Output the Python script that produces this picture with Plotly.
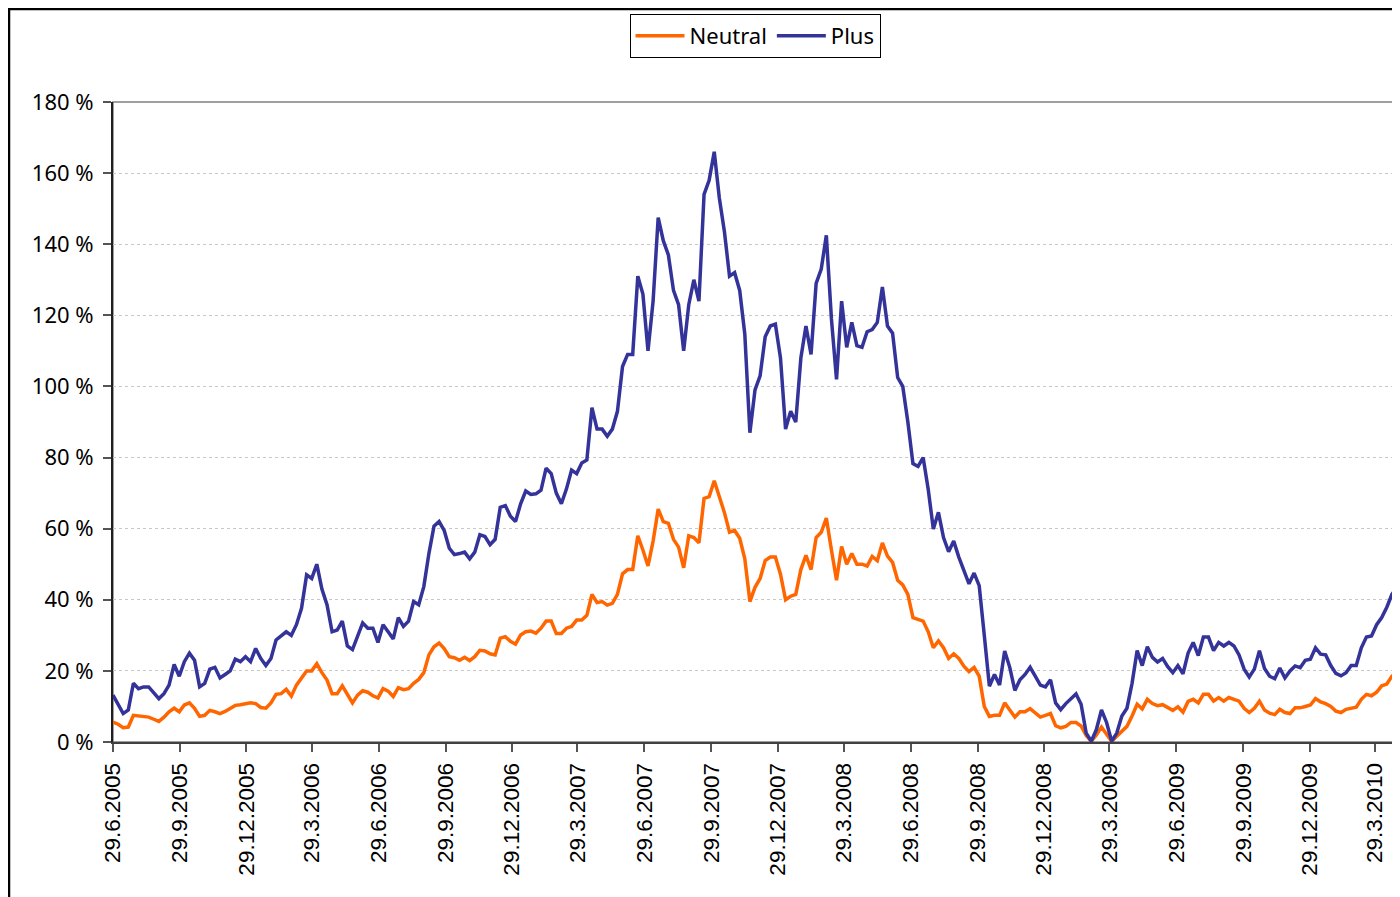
import pandas as pd
import plotly.graph_objects as go

# ---------------- data (weekly observations, percent) ----------------
start_date = "2005-06-29"

neutral = [
    5.6, 5, 4, 4.2, 7.5, 7.3, 7.2, 7, 6.4, 5.8,
    7, 8.5, 9.5, 8.5, 10.4, 11, 9.5, 7.2, 7.5, 8.9,
    8.5, 8, 8.6, 9.5, 10.3, 10.5, 10.7, 11, 10.8, 9.7,
    9.5, 11, 13.4, 13.6, 14.8, 12.9, 16, 17.9, 20, 20,
    22, 19.5, 17.4, 13.6, 13.6, 15.8, 13.5, 11, 13.2, 14.4,
    14, 13, 12.4, 15, 14.3, 12.8, 15.3, 14.7, 15, 16.5,
    17.6, 19.5, 24.5, 26.8, 27.8, 26.3, 24, 23.7, 23, 23.8,
    22.9, 24, 25.8, 25.6, 24.8, 24.5, 29.2, 29.6, 28.3, 27.5,
    30.1, 31, 31.2, 30.6, 32, 34, 34, 30.5, 30.5, 32,
    32.5, 34.3, 34.3, 35.6, 41.5, 39.2, 39.5, 38.5, 39, 41.5,
    47.3, 48.5, 48.5, 58, 54, 49.5, 56.5, 65.5, 62, 61.5,
    57, 54.8, 49, 58, 57.5, 56, 68.5, 69, 73.5, 69,
    64.5, 59, 59.5, 57.3, 51.5, 39.5, 43.5, 46, 51, 52,
    52, 47.2, 40, 41, 41.5, 48.5, 52.5, 48.5, 57.5, 59,
    63, 54, 45.5, 55, 50, 53, 50, 50, 49.5, 52.2,
    51, 56, 52.3, 50.5, 45.5, 44.2, 41.5, 35, 34.5, 34,
    31, 26.5, 28.4, 26.5, 23.5, 24.8, 23.5, 21.3, 19.8, 21,
    18.5, 10, 7.2, 7.5, 7.5, 11, 9, 7, 8.5, 8.5,
    9.4, 8.1, 7, 7.5, 8, 4.6, 4, 4.4, 5.5, 5.5,
    4.5, 1.8, 0.2, 2, 4.2, 2.2, 0.2, 1.6, 3, 4.4,
    7.3, 10.6, 9.3, 12, 10.8, 10.2, 10.5, 9.7, 8.9, 9.9,
    8.4, 11.4, 12, 11, 13.4, 13.4, 11.5, 12.5, 11.5, 12.5,
    12, 11.5, 9.5, 8.3, 9.5, 11.5, 9, 8.1, 7.7, 9.2,
    8.3, 8, 9.6, 9.6, 10, 10.4, 12.2, 11.3, 10.8, 10,
    8.7, 8.3, 9.2, 9.6, 9.8, 12, 13.4, 13, 14, 15.8,
    16.3, 18.5, 19.5,
]

plus = [
    13.2, 10.5, 8, 9, 16.5, 15, 15.5, 15.5, 14, 12.2,
    13.6, 16, 21.8, 18.5, 22.6, 25, 23, 15.5, 16.5, 20.5,
    21, 18, 19, 20, 23.3, 22.6, 24, 22.6, 26.3, 23.5,
    21.5, 23.5, 28.7, 30, 31, 30, 33, 37.6, 47, 46,
    50, 43, 38.6, 31, 31.5, 34, 27, 26, 30, 33.5,
    32, 32, 28, 33, 31, 29, 35, 32.5, 34, 39.5,
    38.6, 43.7, 53, 60.7, 62, 59.5, 54.5, 52.7, 53, 53.4,
    51.5, 53.4, 58.3, 57.8, 55.5, 57, 66, 66.5, 63.5, 62,
    67, 70.6, 69.6, 69.8, 70.8, 77, 75.5, 70, 67, 71.2,
    76.5, 75.5, 78.5, 79.3, 94, 88, 88, 86, 88, 93,
    105.6, 109, 109, 131, 126, 110, 124, 147.5, 141, 137,
    127, 123, 110, 123, 130, 124, 154, 158, 166, 153,
    143.5, 131, 132, 127, 114.7, 87, 99, 103, 114, 117,
    117.5, 108, 88, 93, 90, 108, 117, 109, 129, 133,
    142.5, 119, 102, 124, 111, 118, 111.5, 111, 115.4, 116,
    118, 128, 117, 115, 102.5, 100, 90, 78.3, 77.5, 80,
    71, 59.9, 64.6, 57.5, 53.5, 56.5, 52, 48, 44.5, 47.5,
    44, 30, 15.7, 19, 16, 25.6, 21, 14.5, 17.5, 19,
    21, 18.5, 16, 15.5, 17.5, 11, 9.1, 10.8, 12, 13.5,
    10.6, 2.5, 0.2, 3.5, 9, 5.5, 0.2, 2.5, 7.3, 9.5,
    16.5, 25.7, 21.5, 26.8, 23.8, 22.5, 23.5, 21.2, 19.5, 21.5,
    19.2, 25, 28, 24.3, 29.5, 29.5, 25.7, 28, 27, 28,
    27, 24.5, 20.5, 18.3, 20.5, 25.7, 20.7, 18.5, 17.8, 20.8,
    18, 20, 21.4, 20.9, 23, 23.3, 26.5, 24.7, 24.5, 21.5,
    19.3, 18.6, 19.5, 21.5, 21.5, 26.5, 29.5, 29.8, 33, 35,
    37.9, 41.5, 43.5,
]

tick_dates = [
    "2005-06-29", "2005-09-29", "2005-12-29", "2006-03-29", "2006-06-29",
    "2006-09-29", "2006-12-29", "2007-03-29", "2007-06-29", "2007-09-29",
    "2007-12-29", "2008-03-29", "2008-06-29", "2008-09-29", "2008-12-29",
    "2009-03-29", "2009-06-29", "2009-09-29", "2009-12-29", "2010-03-29",
]
tick_labels = [
    "29.6.2005", "29.9.2005", "29.12.2005", "29.3.2006", "29.6.2006",
    "29.9.2006", "29.12.2006", "29.3.2007", "29.6.2007", "29.9.2007",
    "29.12.2007", "29.3.2008", "29.6.2008", "29.9.2008", "29.12.2008",
    "29.3.2009", "29.6.2009", "29.9.2009", "29.12.2009", "29.3.2010",
]

dates = pd.date_range(start_date, periods=len(neutral), freq="7D")

# ---------------- figure ----------------
fig = go.Figure()
fig.add_trace(go.Scatter(x=dates, y=neutral, mode="lines", name="Neutral",
                         line=dict(color="#FF6600", width=3.5)))
fig.add_trace(go.Scatter(x=dates, y=plus, mode="lines", name="Plus",
                         line=dict(color="#333399", width=3.5)))

# page has an 8px body margin, so the figure is slightly smaller than the window
W, H = 1392, 889
L, R, T, B = 105, 3, 94, 155
pw, ph = W - L - R, H - T - B

fig.update_layout(
    width=W, height=H,
    margin=dict(l=L, r=R, t=T, b=B, pad=0),
    paper_bgcolor="white", plot_bgcolor="white",
    font=dict(family="Liberation Sans, Arial, sans-serif", color="#000000"),
    showlegend=True,
    legend=dict(
        orientation="h", x=0.5, xanchor="center",
        y=(ph + T - 6) / ph, yanchor="top",
        bordercolor="#000000", borderwidth=1, bgcolor="white",
        font=dict(family="Noto Sans, Liberation Sans, sans-serif", size=22),
        itemwidth=49, tracegroupgap=0,
    ),
    xaxis=dict(
        type="date",
        range=[dates[0], dates[-1]],
        tickmode="array", tickvals=tick_dates, ticktext=tick_labels,
        tickangle=-90,
        tickfont=dict(family="Liberation Sans, Arial, sans-serif", size=22.5),
        ticks="outside", ticklen=8, tickcolor="#555555", tickwidth=2,
        showline=True, linecolor="#404040", linewidth=2,
        showgrid=False, zeroline=False,
        ticklabelstandoff=2,
    ),
    yaxis=dict(
        range=[0, 180], tickmode="linear", tick0=0, dtick=20,
        ticksuffix=" %",
        tickfont=dict(family="Noto Sans, Liberation Sans, sans-serif", size=22),
        ticks="outside", ticklen=8, tickcolor="#555555", tickwidth=2,
        showline=True, linecolor="#202020", linewidth=2,
        showgrid=True, gridcolor="#c8c8c8", griddash="dot", gridwidth=1,
        zeroline=False,
        ticklabelstandoff=5,
    ),
    shapes=[
        # plot area border
        dict(type="rect", xref="paper", yref="paper", x0=0, x1=1, y0=0, y1=1,
             line=dict(color="#808080", width=1.5), layer="below"),
        # outer chart frame (left and top edges visible)
        dict(type="rect", xref="paper", yref="paper",
             x0=(1 - L) / pw, x1=(W + 5 - L) / pw,
             y0=-(B + 5) / ph, y1=(ph + T - 1) / ph,
             line=dict(color="#000000", width=2.5)),
    ],
)

fig.write_html("out.html")
